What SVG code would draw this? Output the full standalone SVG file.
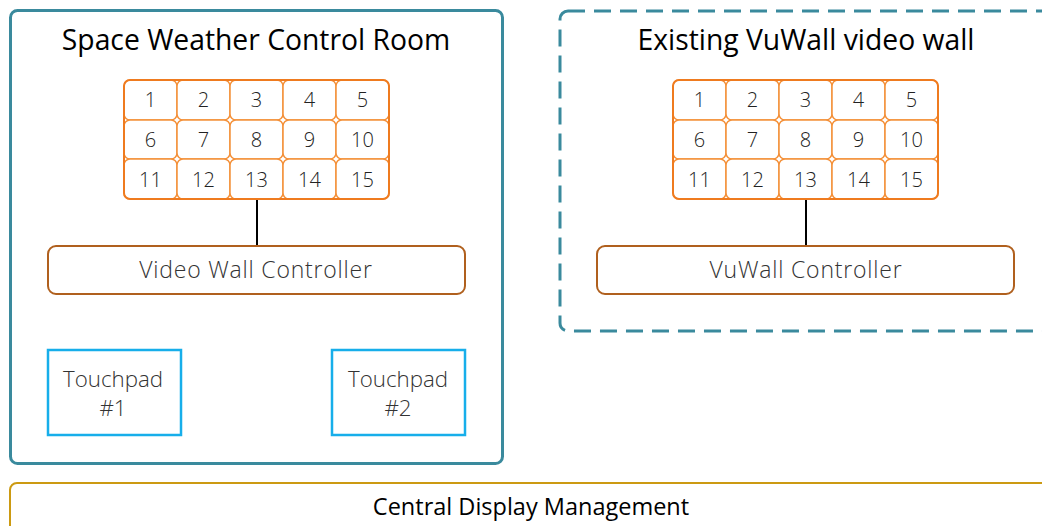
<svg xmlns="http://www.w3.org/2000/svg" width="1042" height="526" viewBox="0 0 1042 526">
<style>
.room{fill:none;stroke:#3a8a9d;stroke-width:3}
.dash{stroke-dasharray:17 9}
.cell{fill:#fff;stroke:#f4913a;stroke-width:1.5}
.outer{fill:none;stroke:#ef7b1f;stroke-width:2}
.ctrl{fill:#fff;stroke:#b0601e;stroke-width:2}
.tp{fill:#fff;stroke:#17aeea;stroke-width:2.5}
.cdm{fill:#fff;stroke:#cc9a12;stroke-width:2}
.title{font-family:"Open Sans",sans-serif;font-size:28.3px;fill:#000;text-anchor:middle}
.num{font-family:"Open Sans",sans-serif;font-weight:300;font-size:20px;fill:#222;text-anchor:middle}
.lbl{font-family:"Open Sans",sans-serif;font-weight:300;font-size:23px;letter-spacing:0.8px;fill:#333;text-anchor:middle}
.tpl{font-family:"Open Sans",sans-serif;font-weight:300;font-size:22.3px;fill:#333;text-anchor:middle}
.cdmt{font-family:"Open Sans",sans-serif;font-size:23.5px;fill:#000;text-anchor:middle}
.conn{stroke:#000;stroke-width:2;fill:none}
</style>
<defs>
<g id="grid">
<rect class="cell" x="0" y="0" width="53" height="40" rx="6"/>
<rect class="cell" x="53" y="0" width="53" height="40" rx="6"/>
<rect class="cell" x="106" y="0" width="53" height="40" rx="6"/>
<rect class="cell" x="159" y="0" width="53" height="40" rx="6"/>
<rect class="cell" x="212" y="0" width="53" height="40" rx="6"/>
<rect class="cell" x="0" y="40" width="53" height="39" rx="6"/>
<rect class="cell" x="53" y="40" width="53" height="39" rx="6"/>
<rect class="cell" x="106" y="40" width="53" height="39" rx="6"/>
<rect class="cell" x="159" y="40" width="53" height="39" rx="6"/>
<rect class="cell" x="212" y="40" width="53" height="39" rx="6"/>
<rect class="cell" x="0" y="79" width="53" height="40" rx="6"/>
<rect class="cell" x="53" y="79" width="53" height="40" rx="6"/>
<rect class="cell" x="106" y="79" width="53" height="40" rx="6"/>
<rect class="cell" x="159" y="79" width="53" height="40" rx="6"/>
<rect class="cell" x="212" y="79" width="53" height="40" rx="6"/>
<rect class="outer" x="0" y="0" width="265" height="119" rx="6"/>
<text class="num" x="26.5" y="27">1</text>
<text class="num" x="79.5" y="27">2</text>
<text class="num" x="132.5" y="27">3</text>
<text class="num" x="185.5" y="27">4</text>
<text class="num" x="238.5" y="27">5</text>
<text class="num" x="26.5" y="67">6</text>
<text class="num" x="79.5" y="67">7</text>
<text class="num" x="132.5" y="67">8</text>
<text class="num" x="185.5" y="67">9</text>
<text class="num" x="238.5" y="67">10</text>
<text class="num" x="26.5" y="107">11</text>
<text class="num" x="79.5" y="107">12</text>
<text class="num" x="132.5" y="107">13</text>
<text class="num" x="185.5" y="107">14</text>
<text class="num" x="238.5" y="107">15</text>
</g>
</defs>
<rect width="1042" height="526" fill="#fff"/>
<g id="space-weather-room">
<rect class="room" x="10.5" y="10.5" width="492" height="453" rx="7"/>
<text class="title" x="256" y="50">Space Weather Control Room</text>
</g>
<g id="vuwall-room">
<rect class="room dash" x="560" y="11" width="500" height="320" rx="8"/>
<text class="title" x="806" y="50">Existing VuWall video wall</text>
</g>
<g id="connectors">
<line class="conn" x1="257" y1="199" x2="257" y2="246"/>
<line class="conn" x1="806" y1="199" x2="806" y2="246"/>
</g>
<g id="grid-left"><use href="#grid" x="124" y="80"/></g>
<g id="grid-right"><use href="#grid" x="673" y="80"/></g>
<g id="video-wall-controller">
<rect class="ctrl" x="48" y="246" width="417" height="48" rx="8"/>
<text class="lbl" x="256" y="278">Video Wall Controller</text>
</g>
<g id="vuwall-controller">
<rect class="ctrl" x="597" y="246" width="417" height="48" rx="8"/>
<text class="lbl" x="806" y="278">VuWall Controller</text>
</g>
<g id="touchpad-1">
<rect class="tp" x="48" y="350" width="133" height="85"/>
<text class="tpl" x="113" y="387">Touchpad</text>
<text class="tpl" x="113" y="416">#1</text>
</g>
<g id="touchpad-2">
<rect class="tp" x="332" y="350" width="133" height="85"/>
<text class="tpl" x="398" y="387">Touchpad</text>
<text class="tpl" x="398" y="416">#2</text>
</g>
<g id="central-display">
<rect class="cdm" x="10" y="483" width="1050" height="60" rx="7"/>
<text class="cdmt" x="531" y="515">Central Display Management</text>
</g>
</svg>
